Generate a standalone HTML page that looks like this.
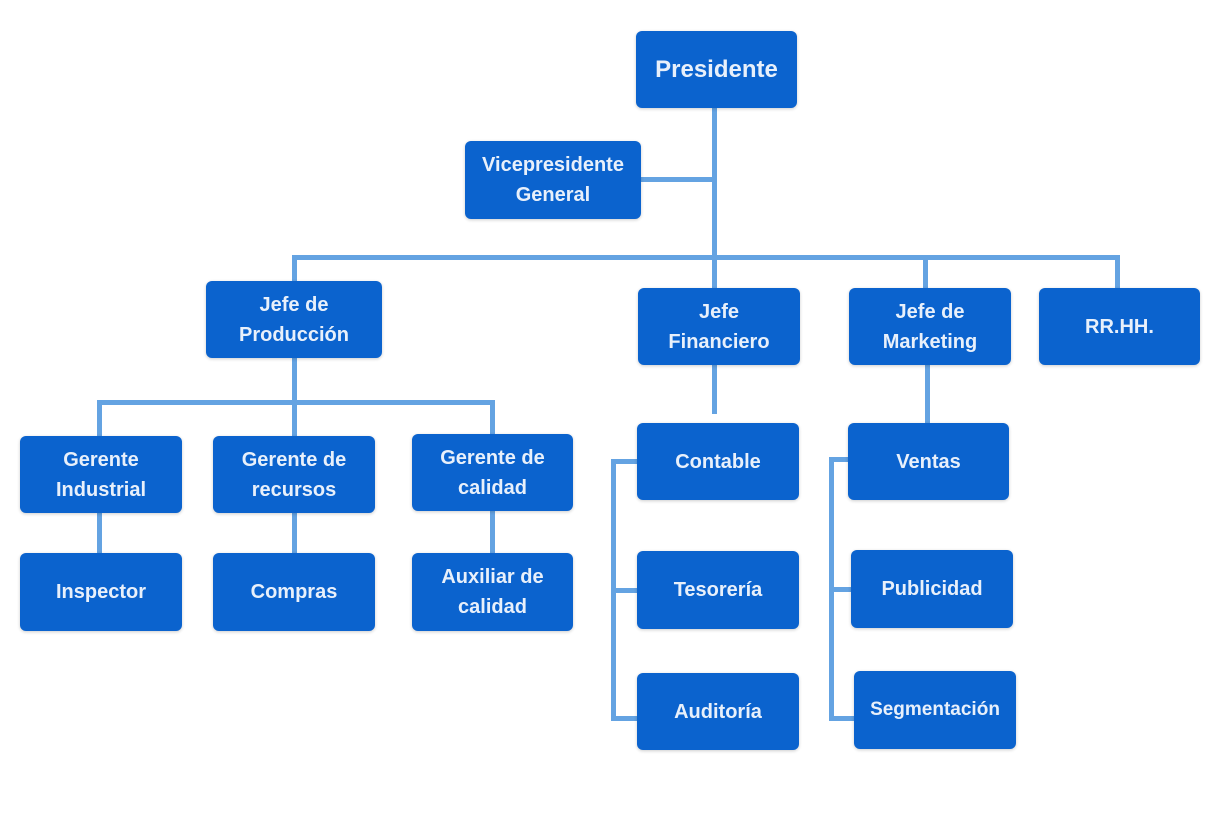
<!DOCTYPE html>
<html><head><meta charset="utf-8"><style>
body{margin:0;width:1230px;height:820px;background:#fff;position:relative;overflow:hidden;font-family:"Liberation Sans","DejaVu Sans",sans-serif}
.b{position:absolute;background:#0b63ce;border-radius:6px;color:#e8f0fb;font-size:20px;font-weight:bold;display:flex;align-items:center;justify-content:center;text-align:center;line-height:30px;box-shadow:0 1px 3px rgba(0,0,0,.2)}
.l{position:absolute;background:#64a3e2}
</style></head><body>
<div class="l" style="left:712px;top:105px;width:5px;height:190px"></div>
<div class="l" style="left:640px;top:177px;width:75px;height:5px"></div>
<div class="l" style="left:292px;top:255px;width:828px;height:5px"></div>
<div class="l" style="left:292px;top:255px;width:5px;height:30px"></div>
<div class="l" style="left:923px;top:255px;width:5px;height:35px"></div>
<div class="l" style="left:1115px;top:255px;width:5px;height:35px"></div>
<div class="l" style="left:292px;top:355px;width:5px;height:83px"></div>
<div class="l" style="left:97px;top:400px;width:398px;height:5px"></div>
<div class="l" style="left:97px;top:400px;width:5px;height:38px"></div>
<div class="l" style="left:490px;top:400px;width:5px;height:36px"></div>
<div class="l" style="left:97px;top:510px;width:5px;height:45px"></div>
<div class="l" style="left:292px;top:510px;width:5px;height:45px"></div>
<div class="l" style="left:490px;top:508px;width:5px;height:47px"></div>
<div class="l" style="left:712px;top:362px;width:5px;height:52px"></div>
<div class="l" style="left:611px;top:459px;width:5px;height:262px"></div>
<div class="l" style="left:611px;top:459px;width:28px;height:5px"></div>
<div class="l" style="left:611px;top:588px;width:28px;height:5px"></div>
<div class="l" style="left:611px;top:716px;width:28px;height:5px"></div>
<div class="l" style="left:925px;top:362px;width:5px;height:63px"></div>
<div class="l" style="left:829px;top:457px;width:5px;height:264px"></div>
<div class="l" style="left:829px;top:457px;width:22px;height:5px"></div>
<div class="l" style="left:829px;top:587px;width:24px;height:5px"></div>
<div class="l" style="left:829px;top:716px;width:27px;height:5px"></div>
<div class="b" style="left:636px;top:31px;width:161px;height:77px;font-size:24px">Presidente</div>
<div class="b" style="left:465px;top:141px;width:176px;height:78px">Vicepresidente<br>General</div>
<div class="b" style="left:206px;top:281px;width:176px;height:77px">Jefe de<br>Producción</div>
<div class="b" style="left:638px;top:288px;width:162px;height:77px">Jefe<br>Financiero</div>
<div class="b" style="left:849px;top:288px;width:162px;height:77px">Jefe de<br>Marketing</div>
<div class="b" style="left:1039px;top:288px;width:161px;height:77px">RR.HH.</div>
<div class="b" style="left:20px;top:436px;width:162px;height:77px">Gerente<br>Industrial</div>
<div class="b" style="left:213px;top:436px;width:162px;height:77px">Gerente de<br>recursos</div>
<div class="b" style="left:412px;top:434px;width:161px;height:77px">Gerente de<br>calidad</div>
<div class="b" style="left:20px;top:553px;width:162px;height:78px">Inspector</div>
<div class="b" style="left:213px;top:553px;width:162px;height:78px">Compras</div>
<div class="b" style="left:412px;top:553px;width:161px;height:78px">Auxiliar de<br>calidad</div>
<div class="b" style="left:637px;top:423px;width:162px;height:77px">Contable</div>
<div class="b" style="left:637px;top:551px;width:162px;height:78px">Tesorería</div>
<div class="b" style="left:637px;top:673px;width:162px;height:77px">Auditoría</div>
<div class="b" style="left:848px;top:423px;width:161px;height:77px">Ventas</div>
<div class="b" style="left:851px;top:550px;width:162px;height:78px">Publicidad</div>
<div class="b" style="left:854px;top:671px;width:162px;height:78px;font-size:19px">Segmentación</div>
</body></html>
